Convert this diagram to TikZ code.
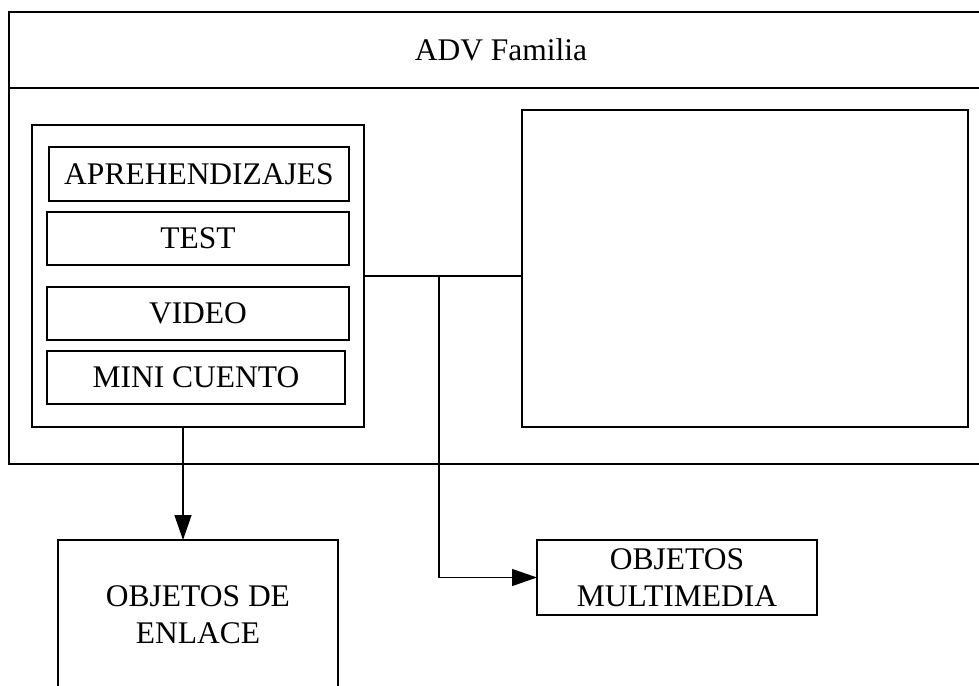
\documentclass[tikz,border=0pt]{standalone}
\usepackage{fontspec}
\setmainfont{Liberation Serif}
\usetikzlibrary{arrows.meta}
\begin{document}
\begin{tikzpicture}[x=1pt,y=-1pt,
  box/.style={draw, line width=1.3pt, rectangle, inner sep=0pt, outer sep=0pt, align=center,
    font=\fontsize{31.5}{37}\selectfont},
  conn/.style={line width=1.3pt},
  arr/.style={conn, -{Triangle[length=25pt,width=17pt]}}]
\useasboundingbox (0,0) rectangle (979,685);
\clip (0,0) rectangle (979,685);
% outer frame
\node[box, minimum width=984pt, minimum height=376pt] (body) at (501,276) {};
\node[box, minimum width=984pt, minimum height=76pt] (title) at (501,50) {ADV Familia};
% left container
\node[box, minimum width=332pt, minimum height=302pt] (left) at (198,276) {};
\node[box, minimum width=300pt, minimum height=54pt] (apre) at (199,174) {APREHENDIZAJES};
\node[box, minimum width=302pt, minimum height=53pt] (test) at (198,238.5) {TEST};
\node[box, minimum width=302pt, minimum height=53pt] (video) at (198,313.5) {VIDEO};
\node[box, minimum width=298pt, minimum height=53pt] (mini) at (196,377.5) {MINI CUENTO};
% right box
\node[box, minimum width=446pt, minimum height=317pt] (right) at (745,268.5) {};
% bottom boxes
\node[box, minimum width=280pt, minimum height=150pt] (enl) at (198,615) {OBJETOS DE\\ENLACE};
\node[box, minimum width=280pt, minimum height=75pt] (mm) at (677,577.5) {OBJETOS\\MULTIMEDIA};
% connectors
\coordinate (j) at (439,276);
\coordinate (c) at (183,0);
\draw[conn] (left.east) -- (left.east -| right.west);
\draw[arr] (j) |- (mm.west);
\draw[arr] (left.south -| c) -- (enl.north -| c);
\end{tikzpicture}
\end{document}
